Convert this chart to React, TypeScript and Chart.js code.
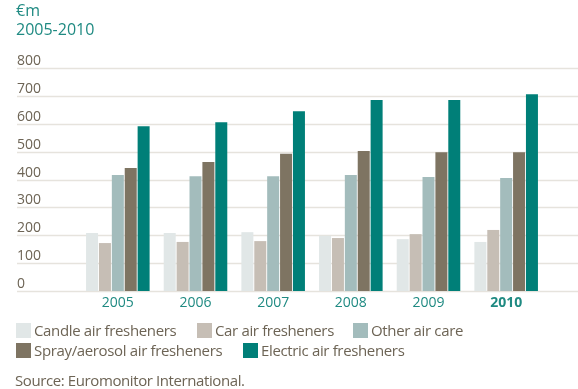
import React, { useEffect, useRef } from "react";
import { Chart, registerables } from "chart.js";

Chart.register(...registerables);

// Air care market value, €m
const years = ["2005", "2006", "2007", "2008", "2009", "2010"];
const candle = [208, 208, 211, 198, 186, 176];
const car = [172, 176, 179, 190, 204, 219];
const otherCare = [416, 412, 412, 416, 409, 405];
const spray = [441, 463, 492, 502, 498, 498];
const electric = [591, 605, 645, 685, 685, 706];
const yTicks = [0, 100, 200, 300, 400, 500, 600, 700, 800];

const seriesNames = [
  "Candle air fresheners",
  "Car air fresheners",
  "Other air care",
  "Spray/aerosol air fresheners",
  "Electric air fresheners",
];
const seriesColors = ["#e1e7e7", "#c6beb5", "#a3bcbc", "#7e7462", "#007f78"];

const FONT = "'Open Sans', sans-serif";
const TEAL = "#1f8a82";
const GREY = "#6d6455";

// Grid lines run across the full width, with tick labels sitting above each line
const gridPlugin = {
  id: "fullGrid",
  beforeDatasetsDraw(chart: any) {
    const { ctx, scales, width } = chart;
    const y = scales.y;
    ctx.save();
    ctx.strokeStyle = "#e6e3dd";
    ctx.lineWidth = 1.6;
    ctx.fillStyle = GREY;
    ctx.font = `14px ${FONT}`;
    ctx.textBaseline = "alphabetic";
    ctx.textAlign = "left";
    for (const v of yTicks) {
      const py = Math.round(y.getPixelForValue(v)) + 0.5;
      ctx.beginPath();
      ctx.moveTo(17, py);
      ctx.lineTo(width, py);
      ctx.stroke();
      ctx.fillText(String(v), 17, py - 4);
    }
    ctx.restore();
  },
  afterDatasetsDraw(chart: any) {
    const { ctx, scales } = chart;
    const x = scales.x;
    const base = scales.y.getPixelForValue(0);
    ctx.save();
    ctx.fillStyle = TEAL;
    ctx.textAlign = "center";
    ctx.textBaseline = "alphabetic";
    years.forEach((yr, i) => {
      ctx.font = `${i === years.length - 1 ? "bold " : ""}14px ${FONT}`;
      ctx.fillText(yr, x.getPixelForTick(i), base + 16);
    });
    ctx.restore();
  },
};

export default function App() {
  const ref = useRef<HTMLCanvasElement>(null);

  useEffect(() => {
    if (!ref.current) return;
    const values = [candle, car, otherCare, spray, electric];
    const chart = new Chart(ref.current, {
      type: "bar",
      data: {
        labels: years,
        datasets: values.map((d, i) => ({
          label: seriesNames[i],
          data: d,
          backgroundColor: seriesColors[i],
          borderWidth: 0,
          categoryPercentage: 0.83,
          barPercentage: 0.93,
        })),
      },
      options: {
        responsive: false,
        animation: false,
        layout: { padding: { left: 79, right: 33, top: 68, bottom: 98 } },
        plugins: { legend: { display: false }, tooltip: { enabled: false } },
        scales: {
          x: { display: false },
          y: { display: false, min: 0, max: 800 },
        },
      },
      plugins: [gridPlugin],
    });
    return () => chart.destroy();
  }, []);

  const text: React.CSSProperties = {
    position: "absolute",
    fontFamily: FONT,
    whiteSpace: "nowrap",
    lineHeight: 1,
  };
  const legendItems = [
    { i: 0, x: 16, y: 322 },
    { i: 1, x: 197, y: 322 },
    { i: 2, x: 353, y: 322 },
    { i: 3, x: 16, y: 342 },
    { i: 4, x: 243, y: 342 },
  ];

  return (
    <div
      style={{
        position: "fixed",
        left: 0,
        top: 0,
        width: 578,
        height: 389,
        background: "#fff",
        overflow: "hidden",
      }}
    >
      <canvas ref={ref} width={578} height={389} style={{ position: "absolute", left: 0, top: 0 }} />
      <div style={{ ...text, left: 16, top: 2, fontSize: 16, color: TEAL }}>€m</div>
      <div style={{ ...text, left: 16, top: 21, fontSize: 16, color: TEAL }}>2005-2010</div>
      {legendItems.map(({ i, x, y }) => (
        <div key={i} style={{ ...text, left: x, top: y, height: 16, display: "flex", alignItems: "center" }}>
          <span style={{ display: "inline-block", width: 15, height: 15, background: seriesColors[i], marginRight: 3 }} />
          <span style={{ fontSize: 15, color: GREY, letterSpacing: -0.35 }}>{seriesNames[i]}</span>
        </div>
      ))}
      <div style={{ ...text, left: 15, top: 373, fontSize: 15, color: GREY, letterSpacing: -0.4 }}>
        Source: Euromonitor International.
      </div>
    </div>
  );
}
